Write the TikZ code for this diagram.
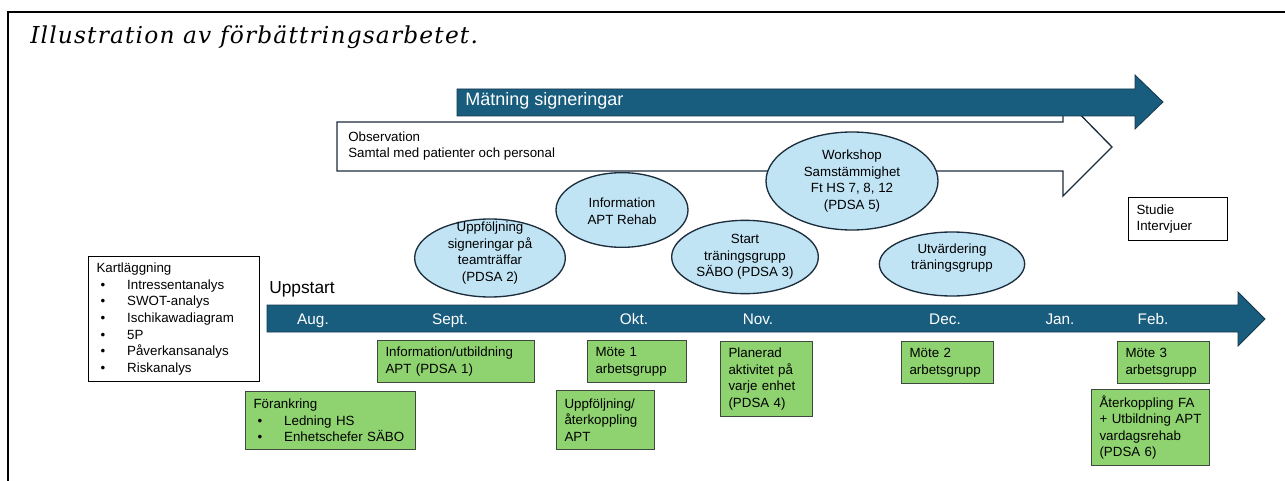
\documentclass[tikz,border=0pt]{standalone}
\usepackage{fontspec}
\setmainfont{Liberation Sans}
\newfontfamily\titlefont[LetterSpace=5]{DejaVu Serif}
\usepackage{tikz}
\usetikzlibrary{shapes.geometric}
\definecolor{tl_blue}{RGB}{25, 93, 126}
\definecolor{tl_edge}{RGB}{20, 55, 78}
\definecolor{ev_blue}{RGB}{193, 228, 245}
\definecolor{ev_edge}{RGB}{28, 45, 60}
\definecolor{act_green}{RGB}{143, 211, 112}
\definecolor{act_edge}{RGB}{62, 72, 62}
\tikzstyle{gb}=[rectangle,fill=act_green,draw=act_edge,line width=0.8pt,
  align=left,inner xsep=6pt,inner ysep=0pt,anchor=north west]
\tikzstyle{wb}=[rectangle,fill=white,draw=black,line width=0.8pt,
  align=left,inner xsep=6pt,inner ysep=0pt,anchor=north west]
\tikzstyle{en}=[ellipse,fill=ev_blue,draw=ev_edge,line width=1pt,inner sep=0pt]
\tikzstyle{et}=[align=center,inner sep=0pt]
\tikzstyle{mon}=[text=white,font=\fontsize{11.5}{13}\selectfont,anchor=base,inner sep=0pt]
\tikzstyle{none}=[]
\newcommand{\itm}{\makebox[23pt][l]{\hspace{3pt}\textbullet}}
\hyphenpenalty=10000
\exhyphenpenalty=10000

\begin{document}
\begin{tikzpicture}[x=0.75pt,y=-0.75pt,font=\fontsize{10}{12.4}\selectfont]
            \useasboundingbox (0,0) rectangle (1285,481);
            \draw [line width=1.6pt] (8,481) -- (8,12) -- (1285,12);
            \node [style=none,anchor=base west,inner sep=0pt,font=\titlefont\itshape\fontsize{17.5}{20}\selectfont] (0) at (30,44) {Illustration av förbättringsarbetet.};
            \draw [fill=white,draw=ev_edge,line width=1pt] (337,122) -- (1063,122) -- (1063,97) -- (1112,147) -- (1063,196) -- (1063,171) -- (337,171) -- cycle;
            \node [style=none,anchor=west,align=left,inner sep=0pt] (1) at (348,146) {Observation\\Samtal med patienter och personal};
            \draw [fill=tl_blue,draw=tl_edge,line width=0.6pt] (457,89) -- (1135,89) -- (1135,75) -- (1163,102) -- (1135,129) -- (1135,116) -- (457,116) -- cycle;
            \node [style=none,anchor=base west,inner sep=0pt,text=white,font=\fontsize{13.5}{15}\selectfont] (2) at (465,106) {Mätning signeringar};
            \draw [fill=tl_blue,draw=tl_edge,line width=0.6pt] (267,305) -- (1238,305) -- (1238,292) -- (1265,319) -- (1238,346) -- (1238,332) -- (267,332) -- cycle;
            \node [style=none,anchor=base west,inner sep=0pt,font=\fontsize{13}{15}\selectfont] (3) at (269,293) {Uppstart};
            \node [style=mon] (4) at (313,324) {Aug.};
            \node [style=mon] (5) at (450,324) {Sept.};
            \node [style=mon] (6) at (634,324) {Okt.};
            \node [style=mon] (7) at (758,324) {Nov.};
            \node [style=mon] (8) at (945,324) {Dec.};
            \node [style=mon] (9) at (1060,324) {Jan.};
            \node [style=mon] (10) at (1153,324) {Feb.};
            \node [style=en,minimum width=113pt,minimum height=58.5pt] (11) at (490,258) {};
            \node [style=en,minimum width=99pt,minimum height=56pt] (12) at (622,210) {};
            \node [style=en,minimum width=110pt,minimum height=55pt] (13) at (745,257) {};
            \node [style=en,minimum width=129pt,minimum height=73.5pt] (14) at (852,181) {};
            \node [style=en,minimum width=109pt,minimum height=48pt] (15) at (952,264) {};
            \node [style=et] (16) at (490,253) {Uppföljning\\signeringar på\\teamträffar\\(PDSA 2)};
            \node [style=et] (17) at (622,211) {Information\\APT Rehab};
            \node [style=et] (18) at (745,257) {Start\\träningsgrupp\\SÄBO (PDSA 3)};
            \node [style=et] (19) at (852,181) {Workshop\\Samstämmighet\\Ft HS 7, 8, 12\\(PDSA 5)};
            \node [style=et] (20) at (952,258) {Utvärdering\\träningsgrupp};
            \node [style=wb,text width=116pt,minimum height=93.75pt] (21) at (88,256) {Kartläggning\\\itm Intressentanalys\\\itm SWOT-analys\\\itm Ischikawadiagram\\\itm 5P\\\itm Påverkansanalys\\\itm Riskanalys};
            \node [style=wb,text width=62pt,minimum height=32pt] (22) at (1128,197) {Studie\\Intervjuer};
            \node [style=gb,text width=105.75pt,minimum height=31.5pt] (23) at (377,340) {Information/utbildning\\APT (PDSA 1)};
            \node [style=gb,text width=115.5pt,minimum height=43.5pt] (24) at (245,391) {Förankring\\\itm Ledning~HS\\\itm Enhetschefer~SÄBO};
            \node [style=gb,text width=62pt,minimum height=31.5pt] (25) at (587,340) {Möte 1\\arbetsgrupp};
            \node [style=gb,text width=61.5pt,minimum height=44.25pt] (26) at (556,390) {Uppföljning/\\återkoppling\\APT};
            \node [style=gb,text width=57pt,minimum height=56.25pt] (27) at (720,341) {Planerad\\aktivitet~på\\varje~enhet\\(PDSA~4)};
            \node [style=gb,text width=57pt,minimum height=31.5pt] (28) at (901,341) {Möte 2\\arbetsgrupp};
            \node [style=gb,text width=57pt,minimum height=31.5pt] (29) at (1117,341) {Möte 3\\arbetsgrupp};
            \node [style=gb,text width=76.5pt,minimum height=57pt] (30) at (1091,389) {Återkoppling~FA\\+~Utbildning~APT\\vardagsrehab\\(PDSA~6)};
    \end{tikzpicture}
\end{document}
